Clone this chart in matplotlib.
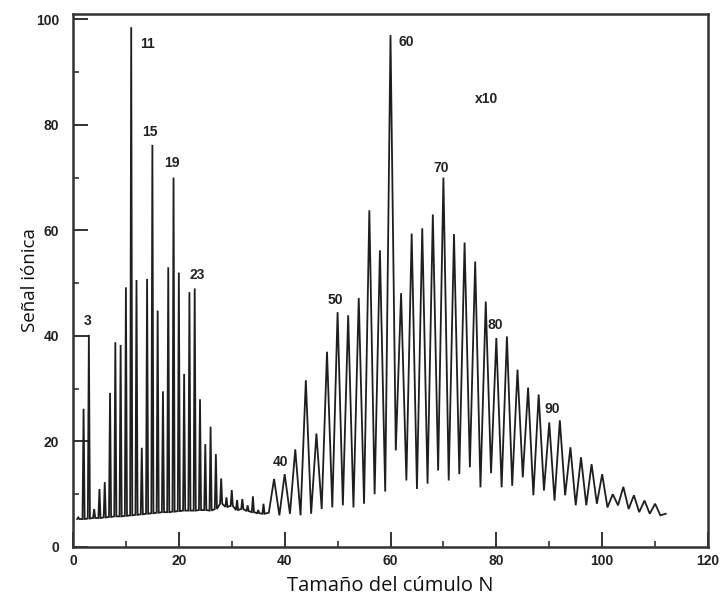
import matplotlib
matplotlib.use("Agg")
import matplotlib.pyplot as plt
from matplotlib.ticker import MultipleLocator

# ---------------- data ----------------
# Small clusters: every size N resolved (thin spikes on a flat baseline)
n_small = list(range(1, 37))
peak_small = [5.6, 26.2, 40.2, 7.2, 11.0, 12.3, 29.2, 38.8, 38.3, 49.2,
              98.5, 50.6, 18.8, 50.8, 76.2, 44.8, 29.5, 53.0, 70.0, 52.0,
              32.8, 48.3, 49.0, 28.0, 19.5, 22.8, 17.6, 13.0, 9.4, 10.8,
              8.9, 9.1, 7.9, 9.6, 7.0, 8.2]
base_small = [5.3, 5.3, 5.4, 5.5, 5.5, 5.6, 5.7, 5.8, 5.8, 5.9,
              6.0, 6.1, 6.2, 6.3, 6.4, 6.5, 6.6, 6.6, 6.7, 6.8,
              6.9, 6.9, 6.9, 7.0, 7.0, 6.9, 7.2, 8.2, 7.6, 7.8,
              7.0, 7.2, 6.8, 6.6, 6.4, 6.3]

# Large clusters (x10 scale): peaks at even N, valleys in between
n_big_valley = list(range(37, 112, 2))
valley_big = [6.5, 6.0, 6.3, 6.0, 6.3, 7.2, 7.5, 7.9, 7.5, 8.2,
              10.0, 10.5, 18.3, 12.6, 11.0, 12.0, 14.5, 12.6, 13.8, 15.1,
              11.3, 14.0, 11.3, 11.6, 13.2, 9.8, 10.7, 8.8, 9.8, 7.9,
              7.9, 8.2, 7.5, 7.9, 7.2, 6.6, 6.3, 6.0]
n_big_peak = list(range(38, 113, 2))
peak_big = [12.9, 13.8, 18.5, 31.6, 21.5, 37.0, 44.5, 43.9, 47.2, 63.8,
            56.2, 97.0, 48.1, 59.4, 60.4, 63.0, 70.0, 59.3, 57.7, 54.1,
            46.5, 39.6, 39.9, 33.6, 30.2, 28.9, 23.6, 24.0, 18.9, 17.0,
            15.7, 13.8, 10.0, 11.4, 9.8, 8.8, 8.2, 6.3]

ann_text = ["3", "11", "15", "19", "23", "40", "50", "60", "70", "80", "90", "x10"]
ann_x = [2.8, 14.0, 14.6, 18.7, 23.4, 39.3, 49.5, 62.9, 69.6, 79.8, 90.5, 78.1]
ann_y = [42.8, 95.3, 78.7, 72.8, 51.5, 16.2, 46.8, 95.7, 71.9, 42.1, 26.2, 84.9]

x_ticks = [0, 20, 40, 60, 80, 100, 120]
y_ticks = [0, 20, 40, 60, 80, 100]

# ---------------- build the trace ----------------
w = 0.2
xs, ys = [], []
for n, p, b in zip(n_small, peak_small, base_small):
    xs += [n - w, n, n + w]
    ys += [b, p, b]
for nv, v, npk, p in zip(n_big_valley, valley_big, n_big_peak, peak_big):
    xs += [nv, npk]
    ys += [v, p]

# ---------------- figure ----------------
fig = plt.figure(figsize=(7.22, 5.99), dpi=100)
ax = fig.add_axes([73 / 722, 1 - 547 / 599, (708 - 73) / 722, (547 - 14) / 599])

ink = "#1e1e1e"
ax.plot(xs, ys, color=ink, lw=1.3, solid_joinstyle="miter")

ax.set_xlim(0, 120)
ax.set_ylim(0, 101)
ax.set_xticks(x_ticks)
ax.set_yticks(y_ticks)
ax.xaxis.set_minor_locator(MultipleLocator(10))
ax.yaxis.set_minor_locator(MultipleLocator(10))
ax.tick_params(which="major", direction="in", length=11, width=1.4, color="#333333",
               labelsize=10)
ax.tick_params(axis="x", which="major", pad=5)
ax.tick_params(axis="y", which="major", pad=10)
ax.tick_params(which="minor", direction="in", length=4.5, width=1.2, color="#333333")
for lab in ax.get_xticklabels() + ax.get_yticklabels():
    lab.set_fontweight("bold")
    lab.set_family("Liberation Sans")
    lab.set_color("#222222")

for s in ax.spines.values():
    s.set_color("#333333")
    s.set_linewidth(1.8)

for t, x, y in zip(ann_text, ann_x, ann_y):
    ax.text(x, y, t, ha="center", va="center", fontsize=10, fontweight="bold",
            family="Liberation Sans", color="#222222")

ax.set_xlabel("Tamaño del cúmulo N", family="Open Sans", fontsize=14.5, labelpad=6,
              color="#111111")
ax.set_ylabel("Señal iónica", family="Open Sans", fontsize=13.5, color="#111111")
ax.yaxis.set_label_coords(-0.054, 0.5)

fig.savefig("out.png", dpi=100)
